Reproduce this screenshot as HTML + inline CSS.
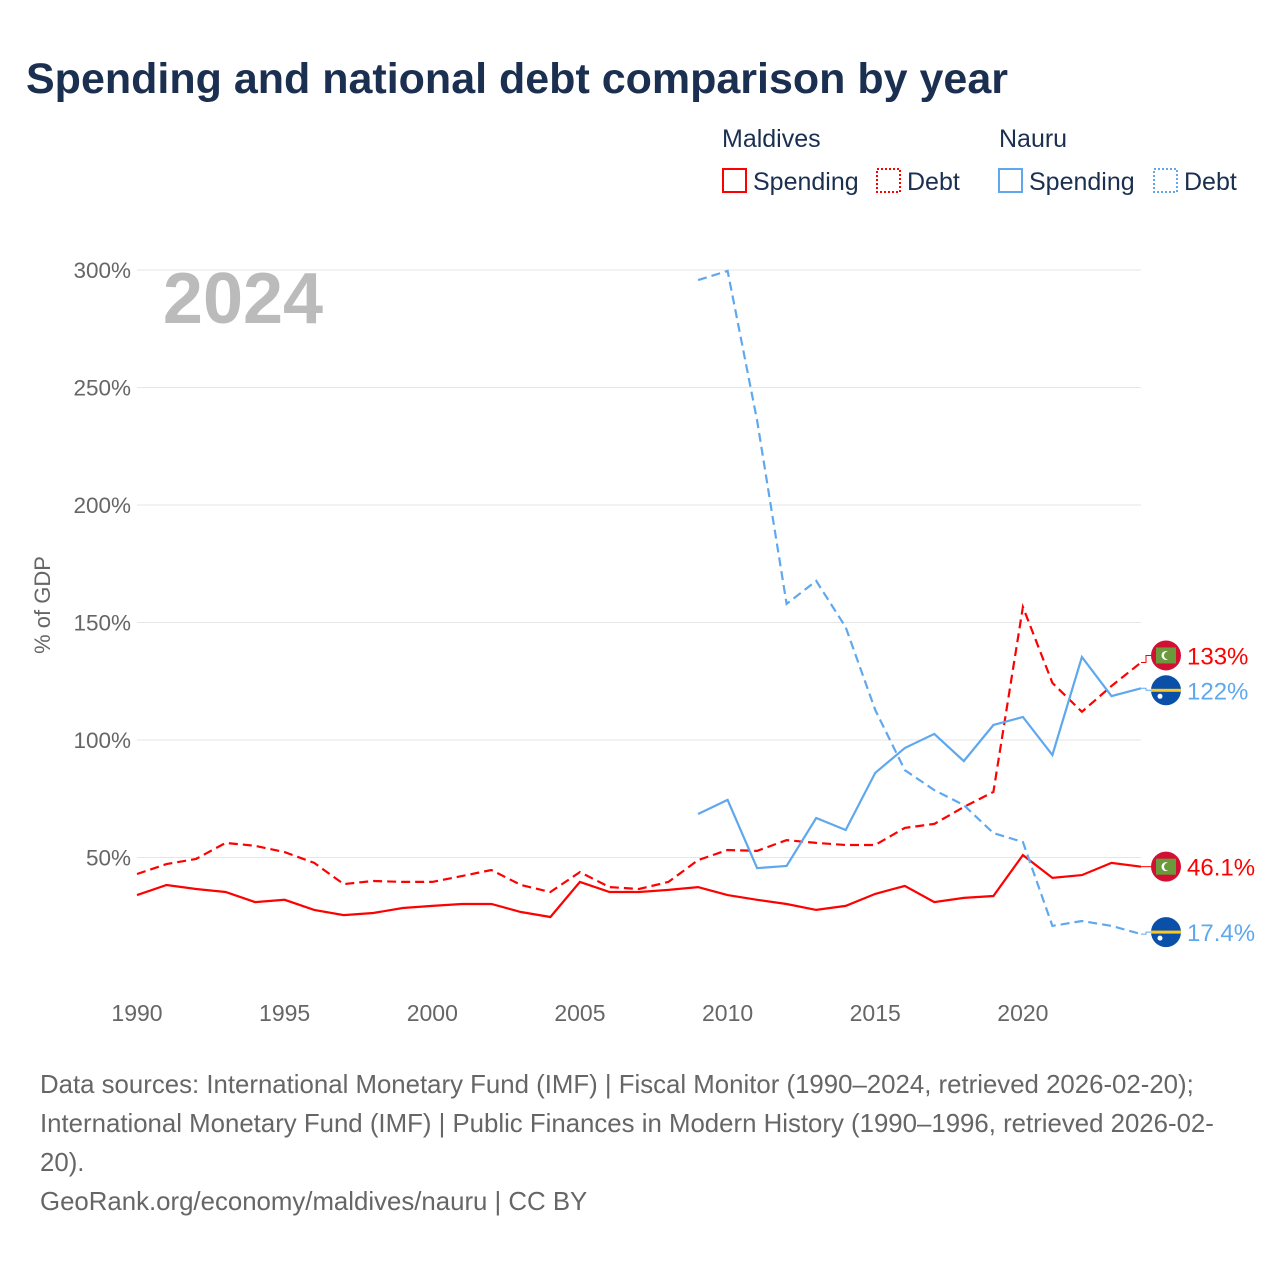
<!DOCTYPE html>
<html><head><meta charset="utf-8"><style>
body{margin:0;background:#fff;font-family:"Liberation Sans",sans-serif}
svg text{font-family:"Liberation Sans",sans-serif}
</style></head><body>
<svg id="chart" width="1280" height="1280" viewBox="0 0 1280 1280" xmlns="http://www.w3.org/2000/svg">
<text x="26" y="93" font-size="43" font-weight="bold" fill="#1b2f50">Spending and national debt comparison by year</text>
<g font-size="25" fill="#1b2f50">
<text x="722" y="147">Maldives</text>
<text x="999" y="147">Nauru</text>
<rect x="723" y="169" width="23" height="23" fill="none" stroke="#f00" stroke-width="2"/>
<text x="753" y="190">Spending</text>
<rect x="877" y="169" width="23" height="23" fill="none" stroke="#f00" stroke-width="2" stroke-dasharray="2,2"/>
<text x="907" y="190">Debt</text>
<rect x="999" y="169" width="23" height="23" fill="none" stroke="#5fa8ee" stroke-width="2"/>
<text x="1029" y="190">Spending</text>
<rect x="1154" y="169" width="23" height="23" fill="none" stroke="#5fa8ee" stroke-width="2" stroke-dasharray="2,2"/>
<text x="1184" y="190">Debt</text>
</g>
<text x="243" y="323" font-size="72" font-weight="bold" fill="#bbb" text-anchor="middle">2024</text>
<text transform="translate(50,605) rotate(-90)" font-size="22" fill="#666" text-anchor="middle">% of GDP</text>
<g id="grid"></g><g id="series"></g><g id="ends"></g>
<g font-size="25.8" fill="#666">
<text x="40" y="1093">Data sources: International Monetary Fund (IMF) | Fiscal Monitor (1990–2024, retrieved 2026-02-20);</text>
<text x="40" y="1132">International Monetary Fund (IMF) | Public Finances in Modern History (1990–1996, retrieved 2026-02-</text>
<text x="40" y="1171">20).</text>
<text x="40" y="1210">GeoRank.org/economy/maldives/nauru | CC BY</text>
</g>
</svg>
<script>
const yTicks=[50,100,150,200,250,300];
const xTicks=[1990,1995,2000,2005,2010,2015,2020];
const mvYears=[1990,1991,1992,1993,1994,1995,1996,1997,1998,1999,2000,2001,2002,2003,2004,2005,2006,2007,2008,2009,2010,2011,2012,2013,2014,2015,2016,2017,2018,2019,2020,2021,2022,2023,2024];
const mvSpending=[34,38.3,36.6,35.3,31,32,27.7,25.5,26.4,28.5,29.4,30.2,30.2,26.8,24.7,39.6,35.3,35.3,36.2,37.4,34,32,30.2,27.7,29.4,34.5,37.9,31,32.8,33.6,51,41.3,42.5,47.7,46.1];
const mvDebt=[43,47.2,49.4,56.2,55,52.3,47.7,38.7,40,39.6,39.6,42.1,44.7,38.3,35.3,43.8,37.4,36.6,39.6,48.9,53.2,52.8,57.4,56.2,55.3,55.3,62.6,64.3,71.5,77.9,156.6,124.3,112,123,133];
const nrYears=[2009,2010,2011,2012,2013,2014,2015,2016,2017,2018,2019,2020,2021,2022,2023,2024];
const nrSpending=[68.5,74.5,45.5,46.4,66.8,61.7,86,96.6,102.6,91,106.4,109.8,93.6,135.3,118.7,122];
const nrDebt=[295.7,299.6,236,157.9,167.7,148,112.8,87.2,78.7,72.3,60.4,56.6,20.9,23,20.9,17.4];
const NS='http://www.w3.org/2000/svg';
const X=y=>137+(y-1990)*(1141-137)/34;
const Y=v=>975-v*2.35;
function mk(t,a,p){const e=document.createElementNS(NS,t);for(const k in a)e.setAttribute(k,a[k]);p.appendChild(e);return e;}
const grid=document.getElementById('grid');
yTicks.forEach(v=>{
 const l=mk('line',{x1:137,x2:1141,y1:Y(v),y2:Y(v),stroke:'#e6e6e6','stroke-width':1},grid);
 
 
 const t=mk('text',{x:131,y:Y(v)+8,'font-size':22.5,fill:'#666','text-anchor':'end'},grid);
 t.textContent=v+'%';
 
 
});
xTicks.forEach(v=>{
 const t=mk('text',{x:X(v),y:1021,'font-size':23,fill:'#666','text-anchor':'middle'},grid);
 t.textContent=v;
 
 
});
const sg=document.getElementById('series');
function line(xs,vs,col,dash,name){
 const d=vs.map((v,i)=>(i?'L':'M')+X(xs[i]).toFixed(1)+','+Y(v).toFixed(1)).join('');
 const p=mk('path',{d:d,fill:'none',stroke:col,'stroke-width':2.2,'stroke-dasharray':dash},sg);
 
 
}
line(mvYears,mvSpending,'#f00','none','line-maldives-spending');
line(mvYears,mvDebt,'#f00','9,5','line-maldives-debt');
line(nrYears,nrSpending,'#5fa8ee','none','line-nauru-spending');
line(nrYears,nrDebt,'#5fa8ee','9,5','line-nauru-debt');
const eg=document.getElementById('ends');
function endLabel(v,txt,col,mv,name,shift){
 const y0=Y(v),y=y0+shift,x0=X(2024);
 const l=mk('path',{d:`M${x0},${y0}H1146V${y}H1152`,stroke:col,'stroke-width':1,fill:'none'},eg);
 
 
 const g=mk('g',{},eg);
 
 
 if(mv){
  mk('circle',{cx:1166,cy:y,r:15,fill:'#d21034'},g);
  mk('rect',{x:1156,y:y-8,width:20,height:16,fill:'#6a9a3b'},g);
  mk('circle',{cx:1166,cy:y,r:4.5,fill:'#fff'},g);
  mk('circle',{cx:1168,cy:y,r:4,fill:'#6a9a3b'},g);
 }else{
  mk('circle',{cx:1166,cy:y,r:15,fill:'#0a4fa8'},g);
  mk('rect',{x:1151,y:y-1.5,width:30,height:3,fill:'#ffc61e'},g);
  mk('circle',{cx:1160,cy:y+6,r:2.5,fill:'#fff'},g);
 }
 const t=mk('text',{x:1187,y:y+9,'font-size':24,fill:col},eg);
 t.textContent=txt;
 
 
}
endLabel(mvDebt[mvDebt.length-1],'133%','#f00',true,'end-maldives-debt',-7);
endLabel(nrSpending[nrSpending.length-1],'122%','#5fa8ee',false,'end-nauru-spending',2);
endLabel(mvSpending[mvSpending.length-1],'46.1%','#f00',true,'end-maldives-spending',0);
endLabel(nrDebt[nrDebt.length-1],'17.4%','#5fa8ee',false,'end-nauru-debt',-2);
</script>
</body></html>
